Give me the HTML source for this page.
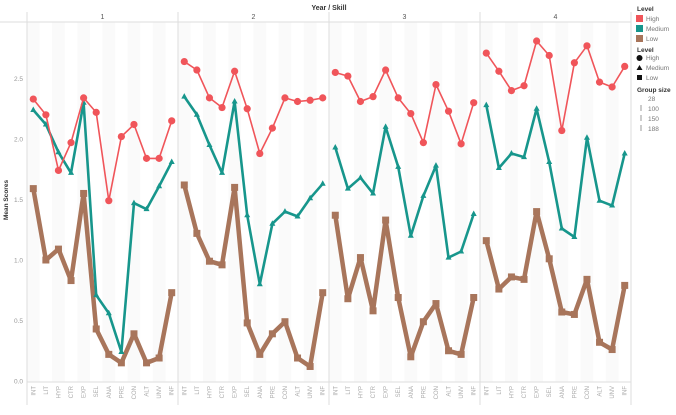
<!DOCTYPE html>
<html><head><meta charset="utf-8"><style>
body{margin:0;background:#fff;font-family:"Liberation Sans",sans-serif}
svg text{font-family:"Liberation Sans",sans-serif}
</style></head><body>
<svg id="c" width="676" height="410" xmlns="http://www.w3.org/2000/svg"></svg>
<script>
const categories=["INT","LIT","HYP","CTR","EXP","SEL","ANA","PRE","CON","ALT","UNV","INF"];
const years=["1","2","3","4"];
const yTicks=[0,0.5,1,1.5,2,2.5];
const yTickLabels=["0.0","0.5","1.0","1.5","2.0","2.5"];
const highY1=[2.33,2.20,1.74,1.97,2.34,2.22,1.49,2.02,2.12,1.84,1.84,2.15];
const highY2=[2.64,2.57,2.34,2.26,2.56,2.25,1.88,2.09,2.34,2.31,2.32,2.34];
const highY3=[2.55,2.52,2.31,2.35,2.57,2.34,2.21,1.97,2.45,2.23,1.96,2.30];
const highY4=[2.71,2.56,2.40,2.44,2.81,2.69,2.07,2.63,2.77,2.47,2.43,2.60];
const medY1=[2.24,2.12,1.89,1.72,2.30,0.71,0.56,0.24,1.47,1.42,1.61,1.81];
const medY2=[2.35,2.20,1.95,1.72,2.31,1.37,0.80,1.30,1.40,1.36,1.51,1.63];
const medY3=[1.93,1.59,1.68,1.55,2.10,1.77,1.20,1.53,1.78,1.02,1.07,1.38];
const medY4=[2.28,1.76,1.88,1.85,2.25,1.81,1.26,1.19,2.01,1.49,1.45,1.88];
const lowY1=[1.59,1.00,1.09,0.83,1.55,0.43,0.22,0.15,0.39,0.15,0.19,0.73];
const lowY2=[1.62,1.22,0.99,0.96,1.60,0.48,0.22,0.39,0.49,0.19,0.12,0.73];
const lowY3=[1.37,0.68,1.02,0.58,1.33,0.69,0.20,0.49,0.64,0.25,0.22,0.69];
const lowY4=[1.16,0.76,0.86,0.84,1.40,1.01,0.57,0.55,0.84,0.32,0.26,0.79];

const NS="http://www.w3.org/2000/svg";
const svg=document.getElementById('c');
function el(t,a,p){const e=document.createElementNS(NS,t);for(const k in a)e.setAttribute(k,a[k]);(p||svg).appendChild(e);return e;}
const px0=27,pw=151,topY=22,botY=382;
function yS(v){return 381-121*v;}
function xS(p,i){return px0+p*pw+(i+0.5)*(pw/categories.length);}
for(let p=0;p<4;p++){for(let i=0;i<categories.length;i++){if(i%2==0){const r=el('rect',{x:px0+p*pw+i*pw/12,y:topY,width:pw/12,height:botY-topY,fill:'#fafafa'});

}}}
const tt=el('text',{x:329,y:10,'font-size':7,'text-anchor':'middle',fill:'#333','font-weight':'bold'});tt.textContent="Year / Skill";


el('line',{x1:0,x2:631,y1:22,y2:22,stroke:'#ddd'});
for(let p=0;p<=4;p++){const l=el('line',{x1:px0+p*pw,x2:px0+p*pw,y1:12,y2:405,stroke:'#ddd'});

}
years.forEach((yr,p)=>{const t=el('text',{x:px0+p*pw+pw/2,y:19,'font-size':7,'text-anchor':'middle',fill:'#555'});t.textContent=yr;

});
el('line',{x1:px0,x2:631,y1:botY,y2:botY,stroke:'#ddd'});
yTicks.forEach((v,i)=>{const t=el('text',{x:23,y:yS(v)+2.5,'font-size':6.5,'text-anchor':'end',fill:'#999'});t.textContent=yTickLabels[i];

});
const yt=el('text',{x:8,y:200,'font-size':6.5,'text-anchor':'middle',fill:'#333',transform:'rotate(-90 8 200)','font-weight':'bold'});yt.textContent="Mean Scores";


for(let p=0;p<4;p++)categories.forEach((c,i)=>{const xx=xS(p,i);const t=el('text',{x:xx+2,y:386,'font-size':6,'text-anchor':'end',fill:'#aaa',transform:`rotate(-90 ${xx+2} 386)`});t.textContent=c;

});
const series=[
 {name:'low',data:[lowY1,lowY2,lowY3,lowY4],color:'#a8755b',w:4.5,shape:'sq'},
 {name:'medium',data:[medY1,medY2,medY3,medY4],color:'#17968c',w:2.6,shape:'tri'},
 {name:'high',data:[highY1,highY2,highY3,highY4],color:'#f0555a',w:1.6,shape:'dot'}];
series.forEach(s=>{s.data.forEach((arr,p)=>{
 const pts=arr.map((v,i)=>xS(p,i).toFixed(1)+','+yS(v).toFixed(1)).join(' ');
 const pl=el('polyline',{points:pts,fill:'none',stroke:s.color,'stroke-width':s.w,'stroke-linejoin':'round'});
 
 
 arr.forEach((v,i)=>{const cx=xS(p,i),cy=yS(v);let m;
  if(s.shape=='dot')m=el('circle',{cx:cx,cy:cy,r:3.6,fill:s.color});
  else if(s.shape=='tri')m=el('polygon',{points:`${cx},${cy-3.5} ${cx-3},${cy+2} ${cx+3},${cy+2}`,fill:s.color});
  else m=el('rect',{x:cx-3.5,y:cy-3.5,width:7,height:7,fill:s.color});
  
  });
});});
const lg=el('g',{});


function lt(tx,xx,yy,b){const t=el('text',{x:xx,y:yy,'font-size':6.5,fill:b?'#333':'#777','font-weight':b?'bold':'normal'},lg);t.textContent=tx;return t;}
lt('Level',637,11,true);
[['High','#f0555a'],['Medium','#17968c'],['Low','#a8755b']].forEach((d,i)=>{const r=el('rect',{x:636,y:15+i*10,width:7,height:7,fill:d[1]},lg);


lt(d[0],646,21+i*10);});
lt('Level',637,52,true);
el('circle',{cx:639.5,cy:58,r:3,fill:'#111'},lg);lt('High',646,60);
el('polygon',{points:'639.5,65 636.5,70 642.5,70',fill:'#111'},lg);lt('Medium',646,70);
el('rect',{x:637,y:75,width:5,height:5,fill:'#111'},lg);lt('Low',646,80);
lt('Group size',637,92,true);
['28','100','150','188'].forEach((g,i)=>{if(i>0)el('rect',{x:640,y:95+i*10,width:2,height:6,fill:'#ccc'},lg);const t=el('text',{x:648,y:101+i*10,'font-size':6.5,fill:'#777'},lg);t.textContent=g;});
</script>
</body></html>
